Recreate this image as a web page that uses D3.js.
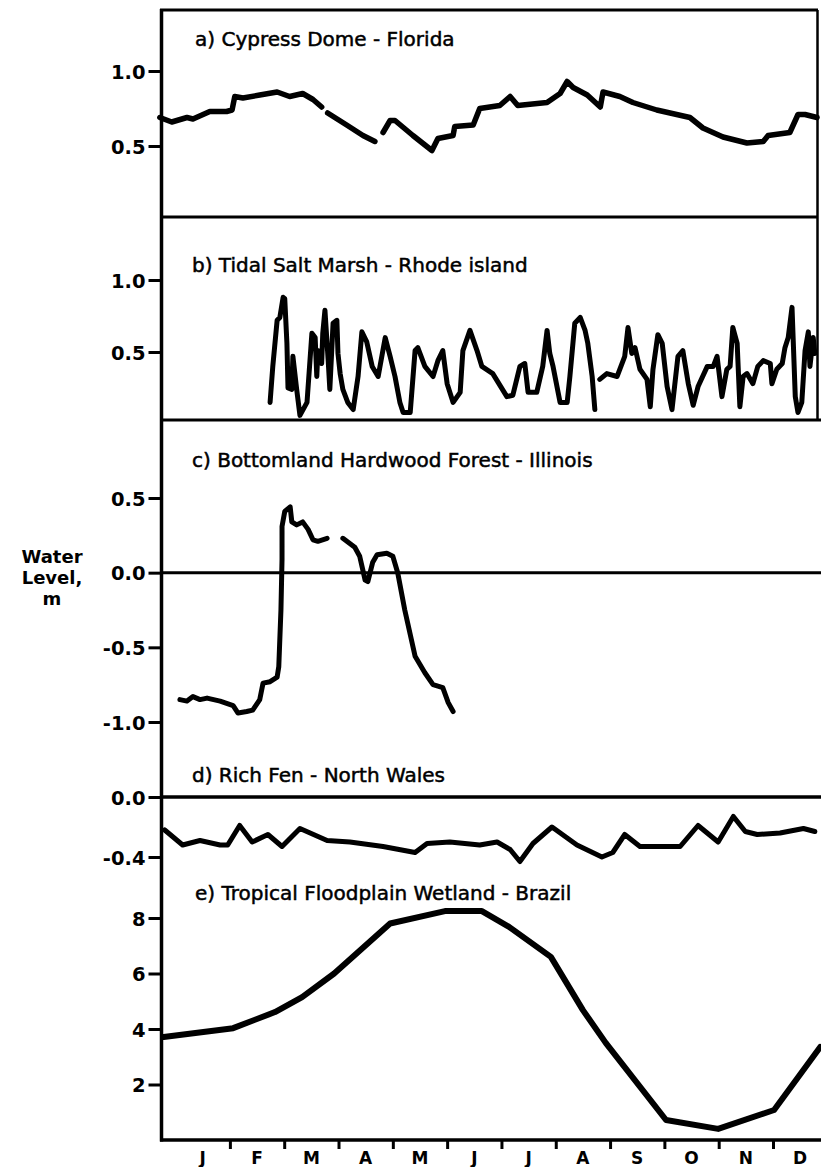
<!DOCTYPE html>
<html>
<head>
<meta charset="utf-8">
<script src="https://cdn.jsdelivr.net/npm/d3@7"></script>
<style>
  body { margin: 0; background: #fff; }
  svg text { fill: #000; }
  .title { font-family: "DejaVu Sans", sans-serif; font-size: 20px; stroke: #000; stroke-width: 0.5px; }
  .ylab text { font-family: "DejaVu Sans", sans-serif; font-weight: bold; font-size: 19.5px; }
  .month { font-family: "DejaVu Sans", sans-serif; font-weight: bold; font-size: 17px; }
  .unit { font-family: "DejaVu Sans", sans-serif; font-weight: bold; font-size: 18px; }
</style>
</head>
<body>
<svg id="chart" width="821" height="1167"></svg>
<script>
// Month letters along the bottom axis
const monthLabels = ["J", "F", "M", "A", "M", "J", "J", "A", "S", "O", "N", "D"];
const monthBoundaries = [1, 2, 3, 4, 5, 6, 7, 8, 9, 10, 11];

// Panel titles
const titles = [
  "a) Cypress Dome - Florida",
  "b) Tidal Salt Marsh - Rhode island",
  "c) Bottomland Hardwood Forest - Illinois",
  "d) Rich Fen - North Wales",
  "e) Tropical Floodplain Wetland - Brazil"
];

// Tick values for each panel
const ticksA = [0.5, 1.0];
const ticksB = [0.5, 1.0];
const ticksC = [-1.0, -0.5, 0.0, 0.5];
const ticksD = [-0.4, 0.0];
const ticksE = [2, 4, 6, 8];

// Water level series: [month of year (0 = 1 Jan), level in m]; null marks a gap in the record
const cypressDome = [
  [-0.29, 0.69], [-0.07, 0.66], [0.21, 0.69], [0.32, 0.68], [0.63, 0.73], [0.94, 0.73],
  [1.04, 0.74], [1.09, 0.83], [1.24, 0.82], [1.55, 0.84], [1.87, 0.86], [2.10, 0.83],
  [2.34, 0.85], [2.53, 0.81], [2.69, 0.76], [2.74, null], [2.80, 0.72], [3.15, 0.64],
  [3.45, 0.57], [3.67, 0.53], [3.75, null], [3.82, 0.59], [3.95, 0.67], [4.04, 0.67],
  [4.37, 0.57], [4.72, 0.47], [4.83, 0.55], [5.11, 0.57], [5.14, 0.63], [5.48, 0.64],
  [5.60, 0.75], [5.97, 0.77], [6.16, 0.83], [6.30, 0.77], [6.84, 0.79], [7.08, 0.85],
  [7.21, 0.93], [7.32, 0.89], [7.58, 0.84], [7.82, 0.76], [7.87, 0.86], [8.18, 0.83],
  [8.42, 0.79], [8.86, 0.74], [9.47, 0.69], [9.71, 0.62], [10.08, 0.56], [10.52, 0.52],
  [10.82, 0.53], [10.91, 0.57], [11.31, 0.59], [11.46, 0.71], [11.59, 0.71], [11.81, 0.69]
];

const saltMarsh = [
  [1.74, 0.15], [1.79, 0.40], [1.87, 0.72], [1.92, 0.74], [1.98, 0.88], [2.01, 0.87],
  [2.05, 0.56], [2.07, 0.25], [2.14, 0.24], [2.16, 0.47], [2.23, 0.24], [2.29, 0.06],
  [2.42, 0.15], [2.51, 0.63], [2.57, 0.60], [2.60, 0.33], [2.62, 0.51], [2.69, 0.42],
  [2.71, 0.63], [2.75, 0.79], [2.81, 0.44], [2.84, 0.24], [2.90, 0.70], [2.97, 0.72],
  [2.99, 0.49], [3.03, 0.35], [3.08, 0.24], [3.17, 0.15], [3.27, 0.10], [3.36, 0.33],
  [3.43, 0.64], [3.52, 0.57], [3.62, 0.40], [3.73, 0.33], [3.86, 0.60], [3.95, 0.47],
  [4.04, 0.33], [4.13, 0.15], [4.19, 0.08], [4.32, 0.08], [4.41, 0.51], [4.46, 0.53],
  [4.59, 0.40], [4.74, 0.33], [4.83, 0.44], [4.92, 0.51], [5.00, 0.28], [5.11, 0.15],
  [5.24, 0.22], [5.29, 0.51], [5.42, 0.65], [5.55, 0.51], [5.64, 0.40], [5.84, 0.35],
  [6.10, 0.19], [6.21, 0.20], [6.34, 0.40], [6.43, 0.42], [6.49, 0.22], [6.65, 0.22],
  [6.76, 0.40], [6.84, 0.65], [6.89, 0.49], [6.95, 0.40], [7.08, 0.15], [7.21, 0.15],
  [7.26, 0.33], [7.35, 0.70], [7.45, 0.74], [7.54, 0.65], [7.59, 0.56], [7.67, 0.33],
  [7.72, 0.10], [7.77, null], [7.81, 0.31], [7.94, 0.35], [8.13, 0.33], [8.27, 0.47],
  [8.33, 0.67], [8.40, 0.49], [8.46, 0.53], [8.55, 0.38], [8.68, 0.31], [8.74, 0.12],
  [8.79, 0.38], [8.88, 0.62], [8.96, 0.56], [9.05, 0.26], [9.14, 0.10], [9.25, 0.47],
  [9.34, 0.51], [9.44, 0.28], [9.53, 0.13], [9.62, 0.26], [9.79, 0.40], [9.90, 0.40],
  [9.97, 0.47], [10.06, 0.19], [10.15, 0.38], [10.21, 0.40], [10.26, 0.67], [10.34, 0.56],
  [10.39, 0.12], [10.45, 0.33], [10.52, 0.35], [10.63, 0.28], [10.72, 0.40], [10.82, 0.44],
  [10.95, 0.42], [10.98, 0.28], [11.07, 0.38], [11.17, 0.42], [11.22, 0.53], [11.28, 0.60],
  [11.35, 0.81], [11.41, 0.19], [11.46, 0.08], [11.53, 0.15], [11.59, 0.51], [11.65, 0.64],
  [11.68, 0.40], [11.74, 0.60], [11.77, 0.49]
];

const bottomlandForest = [
  [0.08, -0.85], [0.21, -0.86], [0.32, -0.83], [0.45, -0.85], [0.58, -0.84], [0.82, -0.86],
  [1.06, -0.89], [1.15, -0.94], [1.31, -0.93], [1.42, -0.92], [1.55, -0.85], [1.61, -0.74],
  [1.74, -0.73], [1.87, -0.70], [1.90, -0.63], [1.94, -0.25], [1.96, 0.09], [1.96, 0.31],
  [2.01, 0.41], [2.11, 0.44], [2.14, 0.34], [2.23, 0.32], [2.34, 0.34], [2.44, 0.29],
  [2.53, 0.22], [2.62, 0.21], [2.79, 0.23], [2.95, null], [3.08, 0.23], [3.30, 0.17],
  [3.39, 0.11], [3.49, -0.05], [3.54, -0.06], [3.63, 0.07], [3.71, 0.12], [3.89, 0.13],
  [4.00, 0.11], [4.09, 0.00], [4.22, -0.25], [4.41, -0.56], [4.59, -0.67], [4.74, -0.75],
  [4.92, -0.77], [5.02, -0.87], [5.11, -0.93]
];

const richFen = [
  [-0.20, -0.22], [0.13, -0.32], [0.45, -0.29], [0.82, -0.32], [0.96, -0.32], [1.18, -0.19],
  [1.41, -0.30], [1.70, -0.25], [1.96, -0.33], [2.29, -0.21], [2.79, -0.29], [3.21, -0.30],
  [3.82, -0.33], [4.41, -0.37], [4.63, -0.31], [5.05, -0.30], [5.60, -0.32], [5.92, -0.30],
  [6.16, -0.35], [6.34, -0.43], [6.58, -0.31], [6.93, -0.20], [7.39, -0.32], [7.85, -0.40],
  [8.05, -0.37], [8.27, -0.25], [8.55, -0.33], [9.29, -0.33], [9.62, -0.19], [9.99, -0.30],
  [10.27, -0.13], [10.49, -0.23], [10.71, -0.25], [11.13, -0.24], [11.56, -0.21], [11.77, -0.23]
];

const floodplainBrazil = [
  [-0.22, 3.71], [1.06, 4.03], [1.83, 4.61], [2.33, 5.15], [2.92, 6.00], [3.95, 7.80],
  [4.96, 8.25], [5.64, 8.25], [6.14, 7.68], [6.91, 6.60], [7.50, 4.68], [7.92, 3.50],
  [9.03, 0.72], [9.99, 0.40], [11.02, 1.08], [11.87, 3.35]
];

// ---- layout ----
const svg = d3.select("#chart");
const axisX = 161.5;
const frameRight = 818;
const fullRight = 821;
const bottomY = 1140;

const x = d3.scaleLinear().domain([-0.25, 11.81]).range([162, 817]);

const panels = [
  { data: cypressDome,      y: d3.scaleLinear().domain([0.5, 1.0]).range([146, 71]),  ticks: ticksA, fmt: d => d.toFixed(1), width: 5.5, title: titles[0], tx: 195, ty: 46 },
  { data: saltMarsh,        y: d3.scaleLinear().domain([0.5, 1.0]).range([352, 280]), ticks: ticksB, fmt: d => d.toFixed(1), width: 5,   title: titles[1], tx: 192, ty: 272 },
  { data: bottomlandForest, y: d3.scaleLinear().domain([-1.0, 0.5]).range([722, 498]), ticks: ticksC, fmt: d => d.toFixed(1), width: 5,   title: titles[2], tx: 192, ty: 467 },
  { data: richFen,          y: d3.scaleLinear().domain([-0.4, 0]).range([857, 797]),  ticks: ticksD, fmt: d => d.toFixed(1), width: 5,   title: titles[3], tx: 192, ty: 782 },
  { data: floodplainBrazil, y: d3.scaleLinear().domain([0, 8]).range([bottomY, 918]), ticks: ticksE, fmt: d => String(d),    width: 6,   title: titles[4], tx: 195, ty: 900 }
];

// frame lines
const frame = svg.append("g").attr("stroke", "#000").attr("fill", "none");
frame.append("line").attr("x1", 160).attr("x2", frameRight).attr("y1", 10).attr("y2", 10).attr("stroke-width", 3);
frame.append("line").attr("x1", 817.5).attr("x2", 817.5).attr("y1", 10).attr("y2", 420).attr("stroke-width", 2.5);
frame.append("line").attr("x1", 160).attr("x2", frameRight).attr("y1", 217).attr("y2", 217).attr("stroke-width", 3);
frame.append("line").attr("x1", 160).attr("x2", fullRight).attr("y1", 420).attr("y2", 420).attr("stroke-width", 3);
frame.append("line").attr("x1", 160).attr("x2", fullRight).attr("y1", panels[2].y(0)).attr("y2", panels[2].y(0)).attr("stroke-width", 3);
frame.append("line").attr("x1", 160).attr("x2", fullRight).attr("y1", panels[3].y(0)).attr("y2", panels[3].y(0)).attr("stroke-width", 3.5);

// series lines
panels.forEach(p => {
  const line = d3.line()
    .defined(d => d[1] !== null)
    .x(d => x(d[0]))
    .y(d => p.y(d[1]));
  svg.append("path")
    .datum(p.data)
    .attr("d", line)
    .attr("fill", "none")
    .attr("stroke", "#000")
    .attr("stroke-width", p.width)
    .attr("stroke-linejoin", "round")
    .attr("stroke-linecap", "round");

  svg.append("text")
    .attr("class", "title")
    .attr("x", p.tx)
    .attr("y", p.ty)
    .text(p.title);

  const ax = svg.append("g")
    .attr("class", "ylab")
    .attr("transform", `translate(${axisX},0)`)
    .call(d3.axisLeft(p.y).tickValues(p.ticks).tickSize(13).tickPadding(3).tickFormat(p.fmt));
  ax.select(".domain").remove();
  ax.selectAll(".tick line").attr("stroke", "#000").attr("stroke-width", 3);
  ax.selectAll(".tick text").attr("dy", "0.36em");
});

// left axis spine and bottom axis
svg.append("line").attr("x1", axisX).attr("x2", axisX).attr("y1", 9).attr("y2", bottomY + 1.5)
  .attr("stroke", "#000").attr("stroke-width", 3.5);

const bx = svg.append("g")
  .attr("transform", `translate(0,${bottomY})`)
  .call(d3.axisBottom(x).tickValues(monthBoundaries).tickSize(9).tickFormat(""));
bx.select(".domain").remove();
bx.selectAll(".tick line").attr("stroke", "#000").attr("stroke-width", 3);
svg.append("line").attr("x1", 160).attr("x2", fullRight).attr("y1", bottomY).attr("y2", bottomY)
  .attr("stroke", "#000").attr("stroke-width", 3.5);

svg.append("g").selectAll("text")
  .data(monthLabels)
  .join("text")
  .attr("class", "month")
  .attr("x", (d, i) => x(i + 0.5))
  .attr("y", 1164)
  .attr("text-anchor", "middle")
  .text(d => d);

// y-axis unit label
svg.append("text")
  .attr("class", "unit")
  .attr("text-anchor", "middle")
  .selectAll("tspan")
  .data(["Water", "Level,", "m"])
  .join("tspan")
  .attr("x", 52)
  .attr("y", (d, i) => 563 + i * 21)
  .text(d => d);
</script>
</body>
</html>
